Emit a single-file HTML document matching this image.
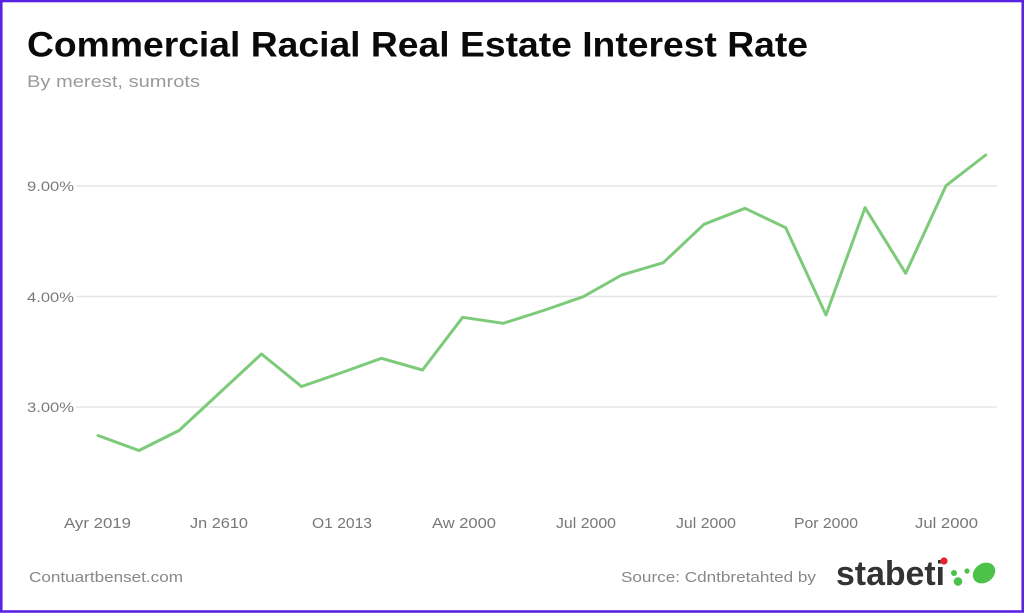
<!DOCTYPE html>
<html>
<head>
<meta charset="utf-8">
<style>
  html, body { margin:0; padding:0; background:#fff; }
  body { width:1024px; height:613px; overflow:hidden; position:relative; }
  svg { display:block; position:absolute; left:0; top:0; }
</style>
</head>
<body>
<svg width="1024" height="613" viewBox="0 0 1024 613" xmlns="http://www.w3.org/2000/svg">
  <rect x="0" y="0" width="1024" height="613" fill="#ffffff"/>
  <!-- border -->
  <rect x="1.25" y="1" width="1021.5" height="610.5" fill="none" stroke="#5a22e2" stroke-width="2.6"/>

  <!-- title -->
  <text x="27" y="56.5" font-family="Liberation Sans, sans-serif" font-weight="bold" font-size="35" fill="#0a0a0a" textLength="781" lengthAdjust="spacingAndGlyphs">Commercial Racial Real Estate Interest Rate</text>
  <text x="27" y="87" font-family="Liberation Sans, sans-serif" font-size="17" fill="#9a9a9a" textLength="173" lengthAdjust="spacingAndGlyphs">By merest,  sumrots</text>

  <!-- gridlines -->
  <g stroke="#e6e6e6" stroke-width="1.5">
    <line x1="76" y1="186" x2="997" y2="186"/>
    <line x1="76" y1="296.5" x2="997" y2="296.5"/>
    <line x1="76" y1="407" x2="997" y2="407"/>
  </g>

  <!-- y labels -->
  <g font-family="Liberation Sans, sans-serif" font-size="14" fill="#7a7a7a">
    <text x="27" y="191" textLength="47" lengthAdjust="spacingAndGlyphs">9.00%</text>
    <text x="27" y="302" textLength="47" lengthAdjust="spacingAndGlyphs">4.00%</text>
    <text x="27" y="412" textLength="47" lengthAdjust="spacingAndGlyphs">3.00%</text>
  </g>

  <!-- series -->
  <polyline fill="none" stroke="#7dcb7a" stroke-width="3" stroke-linejoin="round" stroke-linecap="round"
    points="98,435.5 139,450.5 179,430.5 220,392.5 261.5,354 301.5,386.5 342,372.5 381.5,358.3 422.5,370 462.7,317.3 503.3,323.3 543.5,310.5 583.3,296.7 621.7,275 663.3,262.7 704,224.3 745,208.3 785.7,227.7 826,315 865,207.7 905.7,273.3 946,185.7 985.7,155"/>

  <!-- x labels -->
  <g font-family="Liberation Sans, sans-serif" font-size="15" fill="#777777" text-anchor="middle">
    <text x="97.5" y="528" textLength="67" lengthAdjust="spacingAndGlyphs">Ayr 2019</text>
    <text x="219" y="528" textLength="58" lengthAdjust="spacingAndGlyphs">Jn 2610</text>
    <text x="342" y="528" textLength="60" lengthAdjust="spacingAndGlyphs">O1 2013</text>
    <text x="464" y="528" textLength="64" lengthAdjust="spacingAndGlyphs">Aw 2000</text>
    <text x="586" y="528" textLength="60" lengthAdjust="spacingAndGlyphs">Jul 2000</text>
    <text x="706" y="528" textLength="60" lengthAdjust="spacingAndGlyphs">Jul 2000</text>
    <text x="826" y="528" textLength="64" lengthAdjust="spacingAndGlyphs">Por 2000</text>
    <text x="946.5" y="528" textLength="63" lengthAdjust="spacingAndGlyphs">Jul 2000</text>
  </g>

  <!-- footer -->
  <text x="29" y="582" font-family="Liberation Sans, sans-serif" font-size="15" fill="#888888" textLength="154" lengthAdjust="spacingAndGlyphs">Contuartbenset.com</text>
  <text x="621" y="582" font-family="Liberation Sans, sans-serif" font-size="15" fill="#888888" textLength="195" lengthAdjust="spacingAndGlyphs">Source: Cdntbretahted by</text>

  <!-- logo -->
  <text x="836" y="585" font-family="Liberation Sans, sans-serif" font-weight="bold" font-size="34" fill="#333333" textLength="109" lengthAdjust="spacingAndGlyphs">stabeti</text>
  <circle cx="944" cy="561" r="3.6" fill="#e8202f"/>
  <circle cx="954" cy="573" r="3" fill="#4cc24a"/>
  <circle cx="958" cy="581.5" r="4.3" fill="#4cc24a"/>
  <circle cx="967" cy="571" r="2.6" fill="#4cc24a"/>
  <ellipse cx="984" cy="573" rx="12" ry="9.5" transform="rotate(-35 984 573)" fill="#4cc24a"/>
</svg>
</body>
</html>
